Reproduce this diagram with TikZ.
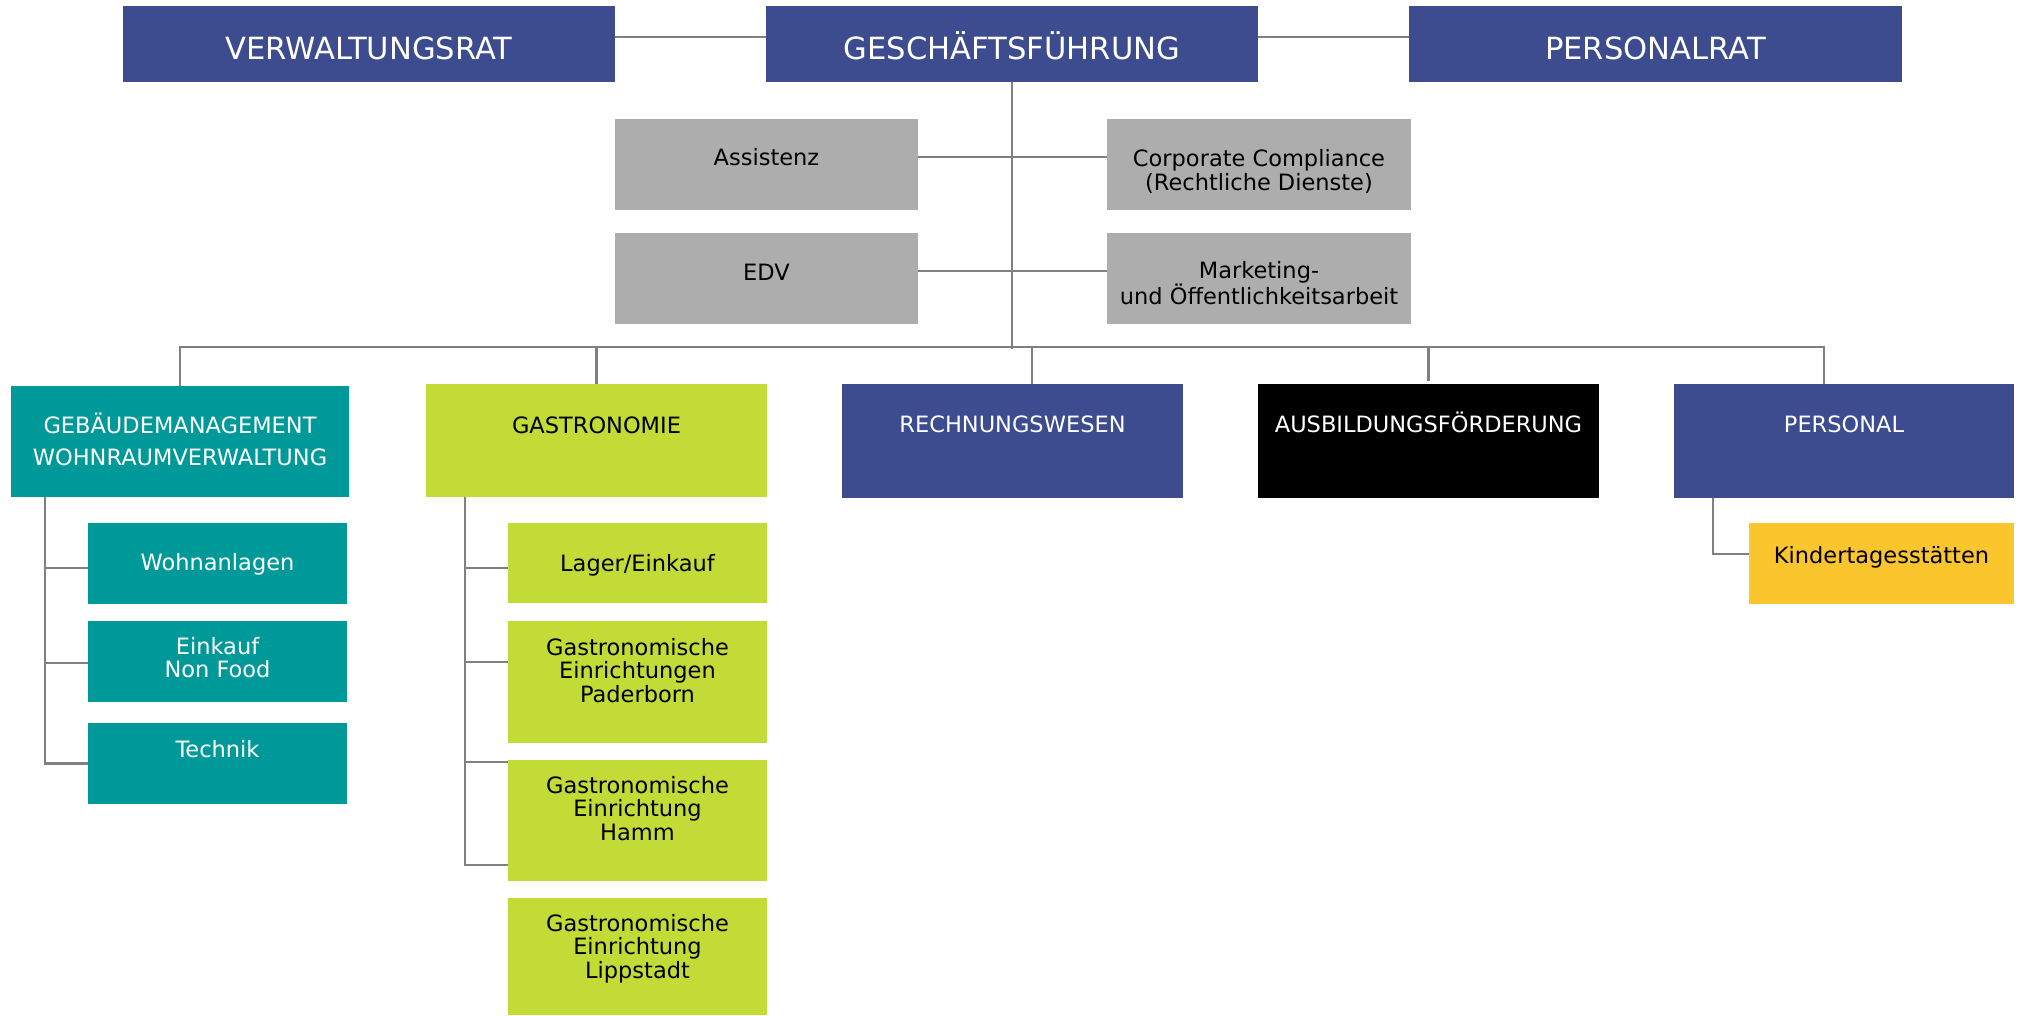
\documentclass[tikz,border=0pt]{standalone}
\usepackage{fontspec}
\setmainfont{DejaVu Sans}
\definecolor{orgblue}{RGB}{61,75,143}
\definecolor{orgteal}{RGB}{0,153,153}
\definecolor{orglime}{RGB}{194,219,54}
\definecolor{orggray}{RGB}{173,173,173}
\definecolor{orgyellow}{RGB}{251,197,46}
\definecolor{linegray}{RGB}{128,128,128}
\tikzset{
  box/.style={rectangle, inner sep=0pt, outer sep=0pt, draw=none},
  conn/.style={draw=linegray, line width=2.6pt},
  lbl/.style={anchor=base, align=center, inner sep=0pt, font=\fontsize{22.5}{23.5}\selectfont},
  biglbl/.style={anchor=base, align=center, inner sep=0pt, font=\fontsize{30.6}{34}\selectfont, text=white},
}
\newcommand{\mkbox}[6]{\node[box,fill=#6,anchor=north west,minimum width={(#4-#2)*1pt},minimum height={(#5-#3)*1pt}] (#1) at (#2,#3) {};}
\begin{document}
\begin{tikzpicture}[x=1pt,y=-1pt]
\useasboundingbox[fill=white] (0,0) rectangle (2019,1016);
% boxes
\mkbox{vr}{123}{6}{615}{82}{orgblue}
\mkbox{gf}{766}{6}{1258}{82}{orgblue}
\mkbox{pr}{1409}{6}{1902}{82}{orgblue}
\mkbox{ass}{615}{119}{918}{210}{orggray}
\mkbox{cc}{1107}{119}{1411}{210}{orggray}
\mkbox{edv}{615}{233}{918}{324}{orggray}
\mkbox{mk}{1107}{233}{1411}{324}{orggray}
\mkbox{geb}{11}{386}{349}{497}{orgteal}
\mkbox{gas}{426}{384}{767}{497}{orglime}
\mkbox{rw}{842}{384}{1183}{498}{orgblue}
\mkbox{aus}{1258}{384}{1599}{498}{black}
\mkbox{per}{1674}{384}{2014}{498}{orgblue}
\mkbox{wohn}{88}{523}{347}{604}{orgteal}
\mkbox{eink}{88}{621}{347}{702}{orgteal}
\mkbox{tech}{88}{723}{347}{804}{orgteal}
\mkbox{lager}{508}{523}{767}{603}{orglime}
\mkbox{pad}{508}{621}{767}{743}{orglime}
\mkbox{hamm}{508}{760}{767}{881}{orglime}
\mkbox{lipp}{508}{898}{767}{1015}{orglime}
\mkbox{kita}{1749}{523}{2014}{604}{orgyellow}
% labels (anchor=base is the baseline of the last line)
\node[biglbl] (t-vr) at ([yshift=-54pt]vr.north) {VERWALTUNGSRAT};
\node[biglbl] (t-gf) at ([yshift=-54pt]gf.north) {GESCHÄFTSFÜHRUNG};
\node[biglbl] (t-pr) at ([yshift=-54pt]pr.north) {PERSONALRAT};
\node[lbl] (t-ass) at ([yshift=-47pt]ass.north) {Assistenz};
\node[lbl] (t-cc) at ([yshift=-71.5pt]cc.north) {Corporate Compliance\\(Rechtliche Dienste)};
\node[lbl] (t-edv) at ([yshift=-48pt]edv.north) {EDV};
\node[lbl] (t-mk) at ([yshift=-71.5pt]mk.north) {Marketing-\\und Öffentlichkeitsarbeit};
\node[lbl, text=white, font=\fontsize{22.5}{32}\selectfont] (t-geb) at ([yshift=-79pt]geb.north) {GEBÄUDEMANAGEMENT\\WOHNRAUMVERWALTUNG};
\node[lbl] (t-gas) at ([yshift=-49pt]gas.north) {GASTRONOMIE};
\node[lbl, text=white] (t-rw) at ([yshift=-48pt]rw.north) {RECHNUNGSWESEN};
\node[lbl, text=white] (t-aus) at ([yshift=-48pt]aus.north) {AUSBILDUNGSFÖRDERUNG};
\node[lbl, text=white] (t-per) at ([yshift=-48pt]per.north) {PERSONAL};
\node[lbl, text=white] (t-wohn) at ([yshift=-47pt]wohn.north) {Wohnanlagen};
\node[lbl, text=white] (t-eink) at ([yshift=-56.5pt]eink.north) {Einkauf\\Non Food};
\node[lbl, text=white] (t-tech) at ([yshift=-34pt]tech.north) {Technik};
\node[lbl] (t-lager) at ([yshift=-48pt]lager.north) {Lager/Einkauf};
\node[lbl] (t-pad) at ([yshift=-81pt]pad.north) {Gastronomische\\Einrichtungen\\Paderborn};
\node[lbl] (t-hamm) at ([yshift=-80pt]hamm.north) {Gastronomische\\Einrichtung\\Hamm};
\node[lbl] (t-lipp) at ([yshift=-80pt]lipp.north) {Gastronomische\\Einrichtung\\Lippstadt};
\node[lbl] (t-kita) at ([yshift=-40pt]kita.north) {Kindertagesstätten};
% connectors
\coordinate (bus) at (0,347);
\draw[conn] ([yshift=7pt]vr.east) -- ([yshift=7pt]gf.west);
\draw[conn] ([yshift=7pt]gf.east) -- ([yshift=7pt]pr.west);
\draw[conn] (gf.south) -- ([yshift=-2pt]gf.south |- bus);
\draw[conn] ([yshift=7.5pt]ass.east) -- ([yshift=7.5pt]cc.west);
\draw[conn] ([yshift=7.5pt]edv.east) -- ([yshift=7.5pt]mk.west);
\draw[conn] (geb.north) -- (geb.north |- bus) -- ([xshift=-20pt]per.north |- bus) -- ([xshift=-20pt]per.north);
\draw[conn] (gas.north) -- (gas.north |- bus);
\draw[conn] ([xshift=19.5pt]rw.north) -- ([xshift=19.5pt]rw.north |- bus);
\draw[conn] ([yshift=3pt]aus.north) -- (aus.north |- bus);
% Gebaeudemanagement sub
\coordinate (gebx) at ([xshift=34pt]geb.south west);
\draw[conn] (gebx) |- (tech.west);
\draw[conn] (gebx |- wohn.west) ++(0,4.5) -- ([yshift=-4.5pt]wohn.west);
\draw[conn] (gebx |- eink.west) ++(0,1.5) -- ([yshift=-1.5pt]eink.west);
% Gastronomie sub
\coordinate (gasx) at ([xshift=39pt]gas.south west);
\draw[conn] (gasx) |- ([yshift=16pt]hamm.south west);
\draw[conn] (gasx |- lager.west) ++(0,5) -- ([yshift=-5pt]lager.west);
\draw[conn] ([yshift=-41pt]pad.north west -| gasx) -- ([yshift=-41pt]pad.north west);
\draw[conn] ([yshift=-2pt]hamm.north west -| gasx) -- ([yshift=-2pt]hamm.north west);
% Personal sub
\coordinate (perx) at ([xshift=39pt]per.south west);
\draw[conn] (perx) |- ([yshift=9.5pt]kita.west);
\end{tikzpicture}
\end{document}
